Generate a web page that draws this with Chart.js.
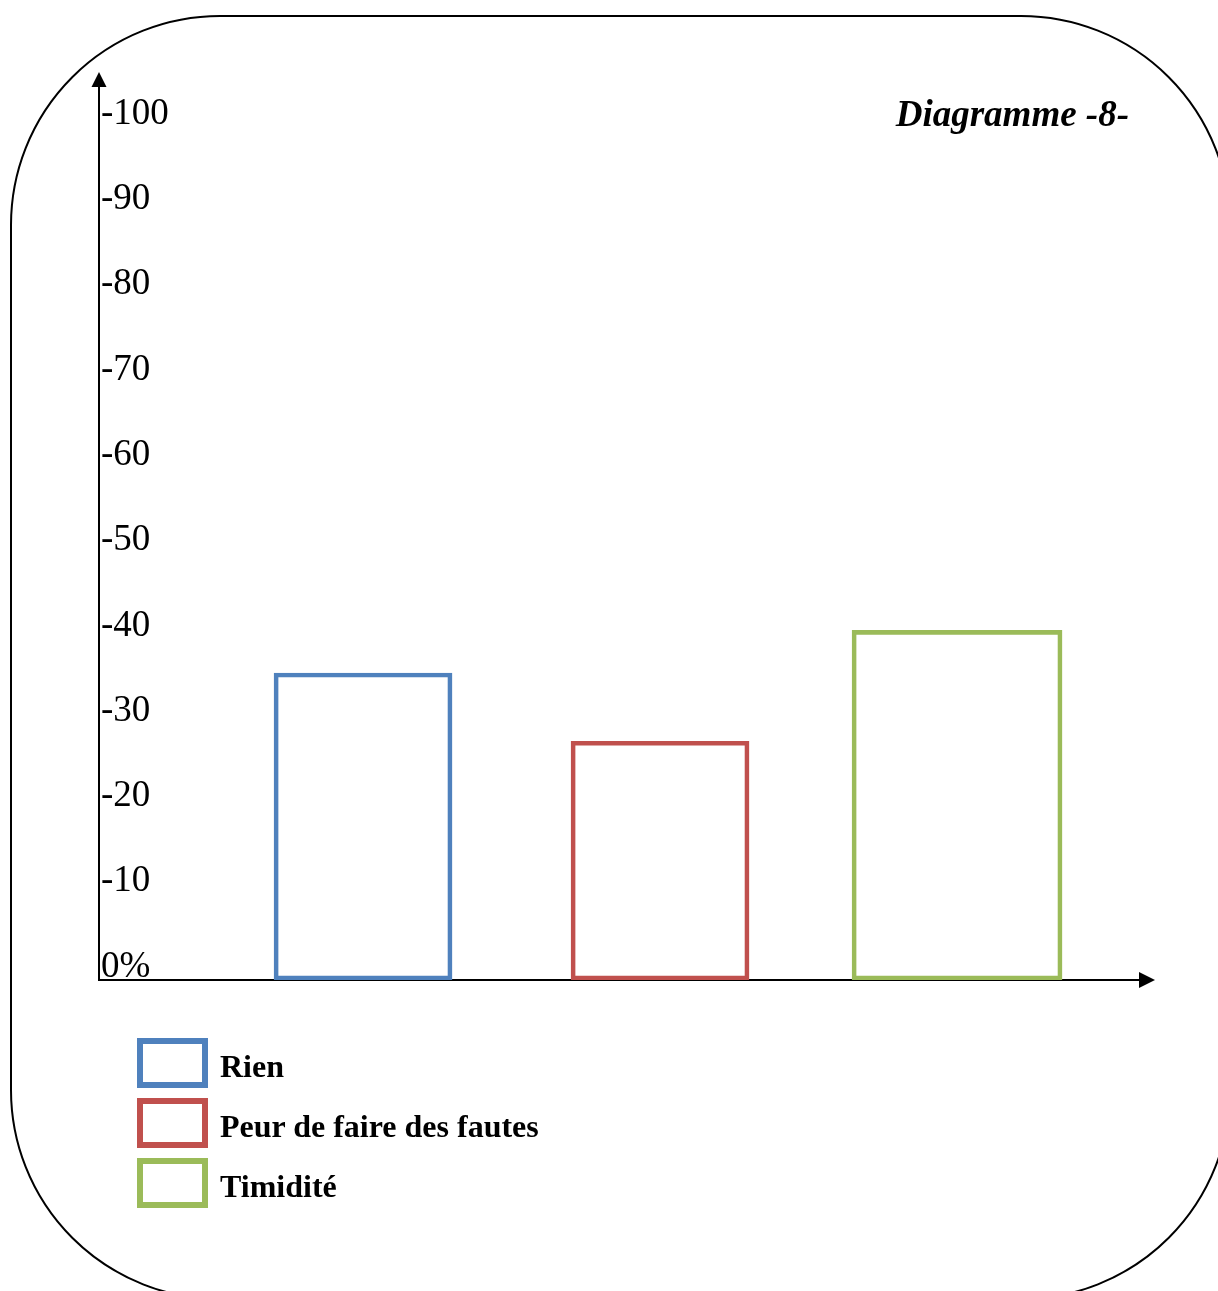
<!DOCTYPE html>
<html>
<head>
<meta charset="utf-8">
<script src="https://cdn.jsdelivr.net/npm/chart.js@4.4.1/dist/chart.umd.min.js"></script>
<style>
  html, body { margin: 0; padding: 0; background: #fff; overflow: hidden; }
  #page { position: relative; width: 1218px; height: 1291px; overflow: hidden; }
  #frame {
    position: absolute; left: 10px; top: 15px; width: 1221px; height: 1285px;
    box-sizing: border-box; border: 2px solid #000; border-radius: 210px;
  }
  #chart { position: absolute; left: 0; top: 0; }
  #title {
    position: absolute; right: 89px; top: 92px; line-height: 1;
    font: italic bold 37px "Liberation Serif", "Times New Roman", serif; color: #000;
  }
  #legend {
    position: absolute; left: 137px; top: 1038px; margin: 0; padding: 0; list-style: none;
  }
  #legend li { display: flex; height: 50px; margin-bottom: 10px; }
  #legend .box {
    width: 71px; height: 50px; box-sizing: border-box; border: 6px solid; background: #fff;
  }
  #legend .txt {
    margin-left: 12px; line-height: 50px; white-space: nowrap; position: relative; top: 10px;
    font: bold 32px "Liberation Serif", "Times New Roman", serif; color: #000;
  }
</style>
</head>
<body>
<div id="page">
  <div id="frame"></div>
  <canvas id="chart" width="1218" height="1291"></canvas>
  <div id="title">Diagramme -8-</div>
  <ul id="legend"></ul>
</div>
<script>
// data
var categories = ["Rien", "Peur de faire des fautes", "Timidité"];
var values = [36, 28, 41];
var tickValues = [0, 10, 20, 30, 40, 50, 60, 70, 80, 90, 100];
var tickLabels = ["0%", "-10", "-20", "-30", "-40", "-50", "-60", "-70", "-80", "-90", "-100"];

// look
var colors = ["#4F81BD", "#C0504D", "#9BBB59"];
var barWidths = [178, 178, 210];

var datasets = categories.map(function (name, i) {
    return {
        label: name,
        data: [{ x: i, y: values[i] }],
        backgroundColor: "rgba(255,255,255,0)",
        borderColor: colors[i],
        borderWidth: 4,
        borderSkipped: false,
        barThickness: barWidths[i],
        grouped: false
    };
});

// arrow heads on both axes
var axisArrows = {
    id: "axisArrows",
    afterDraw: function (chart) {
        var ctx = chart.ctx, a = chart.chartArea;
        ctx.save();
        ctx.fillStyle = "#000";
        ctx.beginPath();
        ctx.moveTo(a.left, a.top - 4);
        ctx.lineTo(a.left - 7.5, a.top + 11);
        ctx.lineTo(a.left + 7.5, a.top + 11);
        ctx.closePath();
        ctx.fill();
        ctx.beginPath();
        ctx.moveTo(a.right + 15, a.bottom);
        ctx.lineTo(a.right - 1, a.bottom - 8);
        ctx.lineTo(a.right - 1, a.bottom + 8);
        ctx.closePath();
        ctx.fill();
        ctx.restore();
    }
};

// legend as html list below the axis
var htmlLegend = {
    id: "htmlLegend",
    afterUpdate: function (chart) {
        var ul = document.getElementById("legend");
        ul.innerHTML = "";
        var items = chart.options.plugins.legend.labels.generateLabels(chart);
        items.forEach(function (item) {
            var li = document.createElement("li");
            var box = document.createElement("span");
            box.className = "box";
            box.style.borderColor = item.strokeStyle;
            var txt = document.createElement("span");
            txt.className = "txt";
            txt.textContent = item.text;
            li.appendChild(box);
            li.appendChild(txt);
            ul.appendChild(li);
        });
    }
};

window.onload = function () {
    var ctx = document.getElementById("chart").getContext("2d");
    window.myBar = new Chart(ctx, {
        type: "bar",
        data: { datasets: datasets },
        plugins: [axisArrows, htmlLegend],
        options: {
            responsive: false,
            animation: false,
            layout: { padding: { left: 95, top: 76, right: 78, bottom: 311 } },
            plugins: {
                legend: { display: false },
                tooltip: { enabled: false }
            },
            scales: {
                x: {
                    type: "linear",
                    offset: false,
                    min: -0.889,
                    max: 2.616,
                    grid: { display: false, drawTicks: false },
                    ticks: { display: false },
                    border: { display: true, color: "#000", width: 2 }
                },
                y: {
                    min: 0,
                    max: 106,
                    grid: { display: false, drawTicks: false },
                    border: { display: true, color: "#000", width: 2 },
                    afterBuildTicks: function (scale) {
                        scale.ticks = tickValues.map(function (v) { return { value: v }; });
                    },
                    ticks: {
                        mirror: true,
                        padding: 2,
                        labelOffset: -13,
                        color: "#000",
                        font: { family: "'Liberation Serif', 'Times New Roman', serif", size: 37 },
                        callback: function (value, index) {
                            return tickLabels[index];
                        }
                    }
                }
            }
        }
    });
};
</script>
</body>
</html>
